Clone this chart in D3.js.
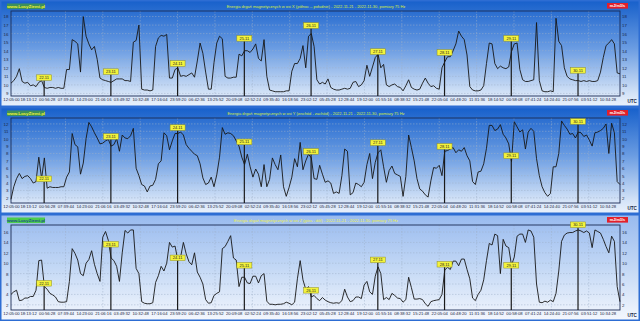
<!DOCTYPE html>
<html>
<head>
<meta charset="utf-8">
<script src="https://cdn.jsdelivr.net/npm/d3@7"></script>
<style>
  body { margin: 0; background: #fff; }
  svg { display: block; }
</style>
</head>
<body>
<svg width="640" height="322"></svg>
<script>
// Hourly readings 2022-11-21 12:05 UTC .. 2022-11-30 15:05 UTC
var startTime = new Date(Date.UTC(2022, 10, 21, 12, 5, 0));
var endTime = new Date(Date.UTC(2022, 10, 30, 15, 6, 0));
var firstTick = new Date(Date.UTC(2022, 10, 21, 18, 13, 12));
var tickStep = (6 * 3600 + 43 * 60 + 16) * 1000;

var tickLabels = ["12:05:00", "18:13:12", "00:56:28", "07:39:44", "14:23:00", "21:06:16", "03:49:32",
  "10:32:48", "17:16:04", "23:59:20", "06:42:36", "13:25:52", "20:09:08", "02:52:24", "09:35:40",
  "16:18:56", "23:02:12", "05:45:28", "12:28:44", "19:12:00", "01:55:16", "08:38:32", "15:21:48",
  "22:05:04", "04:48:20", "11:31:36", "18:14:52", "00:58:08", "07:41:24", "14:24:40", "21:07:56",
  "03:51:12", "10:34:28"];

var dayLabels = ["22.11", "23.11", "24.11", "25.11", "26.11", "27.11", "28.11", "29.11", "30.11"];

var titles = [
  "Energia drgań magnetycznych w osi X (północ – południe) - 2022-11-21 - 2022-11-30, pomiary 75 Hz",
  "Energia drgań magnetycznych w osi Y (wschód - zachód) - 2022-11-21 - 2022-11-30, pomiary 75 Hz",
  "Energia drgań magnetycznych w osi Z (góra - dół) - 2022-11-21 - 2022-11-30, pomiary 75 Hz"
];

var seriesX = [10.2,10.5,11.0,11.9,10.4,10.2,10.3,9.9,10.0,9.8,
  10.3,10.5,9.7,9.6,9.7,9.7,9.6,9.7,9.6,9.6,
  11.8,11.8,15.3,15.1,14.8,11.5,18.0,15.7,14.8,14.1,
  14.5,13.0,10.8,10.6,10.5,10.4,10.3,10.5,10.7,10.7,
  10.7,10.5,10.5,10.4,15.0,15.2,17.0,9.5,9.4,9.4,
  9.3,9.4,14.5,15.5,15.8,15.7,15.9,10.8,10.8,11.8,
  12.0,11.0,11.1,11.0,11.2,11.4,10.9,12.8,14.9,13.7,
  11.5,9.5,9.5,12.6,14.9,15.7,15.4,11.0,10.8,10.8,
  10.9,10.9,13.6,13.4,14.0,14.0,13.8,14.2,14.8,13.1,
  12.8,15.3,11.0,9.4,9.3,9.2,9.2,9.2,9.2,9.3,
  9.3,11.6,12.5,12.5,13.1,14.6,12.0,15.7,16.0,14.5,
  10.6,10.1,10.3,10.1,10.7,9.7,9.5,9.4,9.4,9.5,
  9.6,9.5,9.6,10.3,10.4,9.8,10.0,10.5,12.3,11.0,
  12.1,13.2,13.6,12.0,12.4,10.0,9.8,10.0,10.1,9.8,
  9.7,9.3,9.9,10.6,9.7,9.5,9.4,9.5,10.2,10.8,
  10.2,9.8,9.9,9.6,9.5,12.0,12.7,13.3,13.3,14.0,
  14.8,16.3,15.7,15.3,13.5,9.8,9.4,9.3,9.3,9.4,
  9.9,12.5,14.9,14.8,12.5,11.9,12.2,12.0,11.9,12.1,
  13.9,14.8,14.9,11.8,10.6,10.4,10.4,10.5,10.6,17.3,
  10.5,9.3,9.2,9.2,9.3,9.2,17.8,15.1,14.6,12.0,
  11.0,10.7,10.6,10.5,10.5,10.4,10.5,10.4,10.5,10.4,
  10.4,10.5,11.5,13.2,14.6,14.9,15.3,14.8,11.4,11.3];

var seriesY = [1.8,3.5,4.6,5.3,4.6,4.9,5.0,4.6,4.0,4.2,
  7.5,4.6,7.4,3.3,3.5,3.4,3.4,3.4,3.5,3.5,
  4.8,5.5,10.7,9.2,8.9,5.2,6.7,10.0,12.2,11.6,
  10.8,10.1,9.3,9.4,9.7,9.9,9.0,9.2,10.0,8.3,
  10.5,10.1,10.0,10.4,11.4,6.0,5.0,3.8,3.6,2.8,
  3.6,3.7,4.5,6.6,7.0,10.8,10.4,8.5,9.7,10.7,
  10.7,10.9,10.5,9.2,8.7,8.3,7.9,7.7,6.6,4.7,
  3.8,4.0,4.8,3.5,5.1,7.5,11.5,10.6,10.8,10.7,
  10.4,9.7,9.0,7.5,6.5,7.9,6.2,4.8,5.9,5.2,
  3.5,6.5,3.5,4.5,7.4,6.5,5.8,7.8,3.5,2.2,
  3.4,4.8,7.3,6.2,9.5,5.8,7.0,7.9,7.4,4.6,
  4.5,6.4,5.2,4.1,4.3,4.0,2.6,2.8,2.6,5.0,
  8.6,8.3,2.4,2.7,4.0,3.8,3.5,4.1,6.5,8.0,
  4.6,6.8,8.1,8.5,6.2,4.1,5.7,6.3,5.3,5.1,
  4.9,2.2,4.9,10.5,8.8,7.0,4.6,3.2,2.9,2.4,
  2.1,4.3,6.1,6.0,6.4,5.0,8.3,8.4,8.6,8.8,
  8.1,8.5,8.3,8.8,7.7,7.0,4.2,3.8,5.5,5.6,
  6.6,8.7,11.8,11.8,11.1,11.3,11.9,10.6,10.1,9.3,
  6.9,12.3,11.6,10.9,11.2,8.6,10.9,11.4,11.0,7.3,
  5.0,3.5,2.7,2.2,2.6,6.2,6.2,8.0,12.4,11.8,
  11.3,10.6,10.7,10.1,10.9,10.8,10.3,10.5,9.8,9.0,
  10.8,10.9,11.1,11.4,12.0,8.0,12.1,10.8,4.2,3.8];

var seriesZ = [4.0,4.5,4.8,2.8,2.9,3.3,3.3,3.6,3.6,4.8,
  10.5,10.6,5.5,5.0,4.2,3.9,3.5,2.6,2.5,2.5,
  2.6,6.5,12.8,11.9,10.6,8.0,7.6,10.0,10.7,12.4,
  9.8,8.0,6.5,15.0,16.1,14.4,11.0,10.5,9.4,6.5,
  12.0,16.3,15.8,16.4,16.4,9.0,8.0,2.6,2.3,2.2,
  2.2,2.4,6.3,7.6,9.4,8.5,10.0,14.0,13.1,13.3,
  10.5,11.2,14.0,11.8,10.3,9.7,12.0,8.3,7.3,6.0,
  3.0,2.3,2.4,3.8,4.2,4.5,12.8,13.2,14.2,15.3,
  11.0,10.6,5.5,7.3,7.3,6.2,6.1,7.5,7.5,6.2,
  7.6,8.0,2.7,2.1,2.1,2.0,2.1,2.1,2.2,2.5,
  2.3,2.0,2.5,7.0,10.5,6.8,5.0,5.5,3.5,3.8,
  3.2,2.8,3.4,2.9,2.6,2.4,2.3,2.4,2.3,2.8,
  5.0,3.5,2.6,2.8,3.5,3.5,3.2,5.8,6.5,4.5,
  4.0,7.5,9.3,8.0,3.0,3.4,3.0,4.2,3.8,3.3,
  3.2,2.5,3.0,7.3,5.3,3.1,3.1,3.2,3.0,2.2,
  1.7,2.6,2.8,2.9,3.0,4.0,8.7,9.2,8.8,10.4,
  10.4,9.5,10.8,10.8,8.8,7.0,3.3,2.8,4.0,4.8,
  6.8,10.5,13.8,13.5,15.6,15.3,8.0,14.6,13.3,13.0,
  9.6,11.2,15.2,15.6,15.6,14.0,16.4,16.2,15.0,6.0,
  2.5,2.4,2.7,2.5,2.9,2.6,4.2,8.5,14.2,15.4,
  15.8,15.9,15.9,16.2,16.4,16.2,15.9,16.2,15.8,13.0,
  16.4,16.1,15.8,14.6,13.2,12.0,15.2,14.2,5.5,2.6];

// level (in data units) at which each midnight label sits
var markX = [10.85, 11.55, 12.5, 15.45, 16.95, 13.9, 13.8, 15.45, 11.7];
var markY = [4.57, 10.3, 11.5, 9.57, 8.28, 9.46, 8.96, 7.7, 12.34];
var markZ = [6.14, 13.65, 11.03, 9.6, 4.79, 10.64, 9.8, 9.6, 17.4];

var ticksX = [9, 10, 11, 12, 13, 14, 15, 16, 17, 18];
var ticksY = [2, 3, 4, 5, 6, 7, 8, 9, 10, 11, 12];
var ticksZ = [2, 4, 6, 8, 10, 12, 14, 16];

var svg = d3.select("svg"),
    width = +svg.attr("width"),
    panelH = 107,
    plotL = 11, plotR = 620, plotT = 11, plotB = 96,
    font = "'Liberation Sans', Arial, sans-serif";

var panels = [
  { title: titles[0], values: seriesX, marks: markX, domain: [8.7, 18.65], ticks: ticksX,
    bg: "bgDark", titleColor: "#d8ee3c", wwwFill: "#3d8f5a", wwwText: "#f0f434" },
  { title: titles[1], values: seriesY, marks: markY, domain: [1.3, 12.8], ticks: ticksY,
    bg: "bgDark", titleColor: "#d8ee3c", wwwFill: "#3d8f5a", wwwText: "#f0f434" },
  { title: titles[2], values: seriesZ, marks: markZ, domain: [1.0, 17.35], ticks: ticksZ,
    bg: "bgLight", titleColor: "#eef040", wwwFill: "#4ccc4c", wwwText: "#1d4f8c" }
];

var x = d3.scaleUtc().domain([startTime, endTime]).range([plotL, plotR]);

var tickTimes = tickLabels.map(function(d, i) {
  return i === 0 ? startTime : new Date(firstTick.getTime() + (i - 1) * tickStep);
});

// Background gradients
var defs = svg.append("defs");
function gradient(id, stops) {
  var lg = defs.append("linearGradient").attr("id", id)
      .attr("x1", 0).attr("y1", 0).attr("x2", 0).attr("y2", 1);
  stops.forEach(function(s) { lg.append("stop").attr("offset", s[0]).attr("stop-color", s[1]); });
}
gradient("bgDark", [[0, "#1760cb"], [0.45, "#6a9ce2"], [0.88, "#d4e3f7"], [1, "#eaf1fb"]]);
gradient("bgLight", [[0, "#98baef"], [0.5, "#c3d8f5"], [1, "#f4f7fd"]]);

panels.forEach(function(p, k) {
  var g = svg.append("g").attr("transform", "translate(0," + k * panelH + ")");

  g.append("rect")
      .attr("x", 0.75).attr("y", 0.75)
      .attr("width", width - 1.5).attr("height", panelH - 1.5)
      .attr("fill", "url(#" + p.bg + ")")
      .attr("stroke", "#2d6dd3").attr("stroke-width", 1.5);

  var y = d3.scaleLinear().domain(p.domain).range([plotB, plotT]);

  // dashed grid
  g.append("g").selectAll("line")
    .data(p.ticks)
    .enter().append("line")
      .attr("x1", plotL).attr("x2", plotR)
      .attr("y1", function(d) { return y(d); })
      .attr("y2", function(d) { return y(d); })
      .attr("stroke", "#9fb0c8").attr("stroke-width", 0.5)
      .attr("stroke-dasharray", "1.5,1.5");

  g.append("g").selectAll("line")
    .data(tickTimes.filter(function(d, i) { return i % 2 === 1; }))
    .enter().append("line")
      .attr("x1", function(d) { return x(d); })
      .attr("x2", function(d) { return x(d); })
      .attr("y1", plotT).attr("y2", plotB)
      .attr("stroke", "#9fb0c8").attr("stroke-width", 0.5)
      .attr("stroke-dasharray", "1.5,1.5");

  // axes (labels only, frame drawn separately)
  var axL = g.append("g").attr("transform", "translate(" + plotL + ",0)")
      .call(d3.axisLeft(y).tickValues(p.ticks).tickSize(0).tickPadding(2.5));
  var axR = g.append("g").attr("transform", "translate(" + plotR + ",0)")
      .call(d3.axisRight(y).tickValues(p.ticks).tickSize(0).tickPadding(2));
  var axB = g.append("g").attr("transform", "translate(0," + plotB + ")")
      .call(d3.axisBottom(x).tickValues(tickTimes).tickSize(0).tickPadding(2.2)
        .tickFormat(function(d, i) { return tickLabels[i]; }));
  [axL, axR, axB].forEach(function(a) {
    a.select(".domain").remove();
    a.attr("font-family", font).attr("color", "#1d2642");
  });
  axL.attr("font-size", 4.4);
  axR.attr("font-size", 4.4);
  axB.attr("font-size", 4.2);

  g.append("rect")
      .attr("x", plotL).attr("y", plotT)
      .attr("width", plotR - plotL).attr("height", plotB - plotT)
      .attr("fill", "none").attr("stroke", "#1b2c55").attr("stroke-width", 0.9);

  // the series
  var line = d3.line()
      .x(function(d, i) { return x(new Date(startTime.getTime() + i * 3600e3)); })
      .y(function(d) { return y(d); });

  g.append("path")
      .datum(p.values)
      .attr("fill", "none")
      .attr("stroke", "#161616")
      .attr("stroke-width", 0.9)
      .attr("stroke-linejoin", "round")
      .attr("d", line);

  // midnight markers
  var mark = g.append("g").selectAll("g")
    .data(dayLabels)
    .enter().append("g");

  function mx(d, i) { return x(new Date(Date.UTC(2022, 10, 22 + i))); }

  mark.append("line")
      .attr("x1", mx).attr("x2", mx)
      .attr("y1", function(d, i) { return y(p.marks[i]) + 2.8; })
      .attr("y2", plotB)
      .attr("stroke", "#1a1a1a").attr("stroke-width", 1.2);

  mark.append("rect")
      .attr("x", function(d, i) { return mx(d, i) - 7.5; })
      .attr("y", function(d, i) { return y(p.marks[i]) - 2.8; })
      .attr("width", 15).attr("height", 5.6)
      .attr("fill", "#f3f33c").attr("stroke", "#8d8d2a").attr("stroke-width", 0.5);

  mark.append("text")
      .attr("x", mx)
      .attr("y", function(d, i) { return y(p.marks[i]) + 1.5; })
      .attr("text-anchor", "middle")
      .attr("font-family", font).attr("font-size", 4)
      .attr("fill", "#222")
      .text(function(d) { return d; });

  // headings
  g.append("rect")
      .attr("x", 7).attr("y", 3.5).attr("width", 38).attr("height", 5.6)
      .attr("fill", p.wwwFill);
  g.append("text")
      .attr("x", 26).attr("y", 8.1)
      .attr("text-anchor", "middle")
      .attr("font-family", font).attr("font-size", 4.4).attr("font-weight", "bold")
      .attr("fill", p.wwwText)
      .text("www.LosyZiemi.pl");

  g.append("text")
      .attr("x", 316).attr("y", 7.8)
      .attr("text-anchor", "middle")
      .attr("font-family", font).attr("font-size", 4)
      .attr("fill", p.titleColor)
      .text(p.title);

  g.append("rect")
      .attr("x", 607).attr("y", 3).attr("width", 21).attr("height", 5.6)
      .attr("fill", "#e3202a");
  g.append("text")
      .attr("x", 617.5).attr("y", 7.3)
      .attr("text-anchor", "middle")
      .attr("font-family", font).attr("font-size", 3.9).attr("font-weight", "bold")
      .attr("fill", "#fff")
      .text("mJ/m3/s");

  g.append("text")
      .attr("x", 627.5).attr("y", 103)
      .attr("font-family", font).attr("font-size", 4.6).attr("font-weight", "bold")
      .attr("fill", "#1d2642")
      .text("UTC");
});
</script>
</body>
</html>
